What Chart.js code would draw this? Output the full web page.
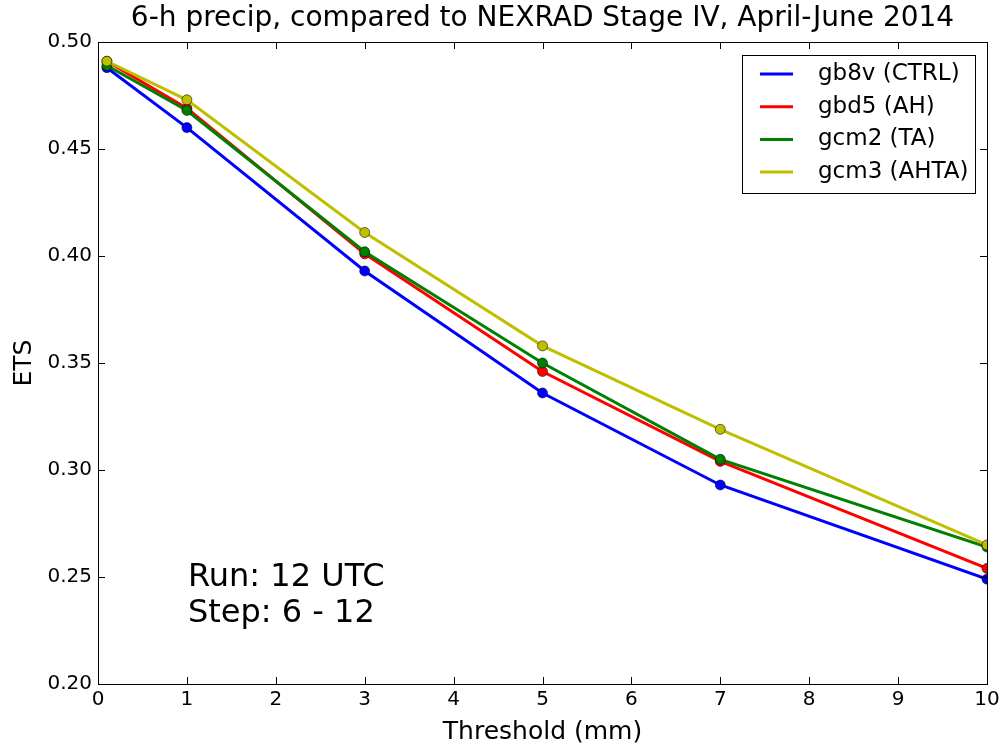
<!DOCTYPE html>
<html>
<head>
<meta charset="utf-8">
<script src="https://cdn.jsdelivr.net/npm/chart.js@4/dist/chart.umd.min.js"></script>
<style>
  html, body { margin: 0; padding: 0; background: #fff; }
  #wrap { width: 1005px; height: 744px; position: relative; }
</style>
</head>
<body>
<div id="wrap"><canvas id="c"></canvas></div>
<script>
// valores
const thresholds = [0.1, 1, 3, 5, 7, 10];
const gb8v = [0.488, 0.460, 0.393, 0.336, 0.293, 0.249];
const gbd5 = [0.491, 0.469, 0.401, 0.346, 0.304, 0.254];
const gcm2 = [0.489, 0.468, 0.402, 0.350, 0.305, 0.264];
const gcm3 = [0.491, 0.473, 0.411, 0.358, 0.319, 0.265];
const seriesNames = ["gb8v (CTRL)", "gbd5 (AH)", "gcm2 (TA)", "gcm3 (AHTA)"];
const seriesColors = ["#0000ff", "#ff0000", "#008000", "#bfbf00"];
const xTicks = [0, 1, 2, 3, 4, 5, 6, 7, 8, 9, 10];
const yTicks = [0.20, 0.25, 0.30, 0.35, 0.40, 0.45, 0.50];

const FONT = "'DejaVu Sans', 'Liberation Sans', sans-serif";
Chart.defaults.font.family = FONT;
Chart.defaults.color = "#000";

function mkSet(i, vals) {
  return {
    label: seriesNames[i],
    data: thresholds.map((x, k) => ({ x: x, y: vals[k] })),
    borderColor: seriesColors[i],
    backgroundColor: seriesColors[i],
    borderWidth: 3,
    pointRadius: 5,
    pointHoverRadius: 5,
    pointBackgroundColor: seriesColors[i],
    pointBorderColor: "rgba(0,0,0,.55)",
    pointBorderWidth: 1,
    tension: 0,
    clip: 0,
    order: 3 - i
  };
}

// marco, ticks hacia adentro, leyenda y texto
const mplFrame = {
  id: "mplFrame",
  afterDatasetsDraw(chart) {
    const { ctx, chartArea: a, scales } = chart;
    ctx.save();
    ctx.strokeStyle = "#000";
    ctx.lineWidth = 1;
    ctx.beginPath();
    xTicks.forEach(v => {
      const px = Math.round(scales.x.getPixelForValue(v)) + 0.5;
      ctx.moveTo(px, a.bottom); ctx.lineTo(px, a.bottom - 7);
      ctx.moveTo(px, a.top); ctx.lineTo(px, a.top + 7);
    });
    yTicks.forEach(v => {
      const py = Math.round(scales.y.getPixelForValue(v)) + 0.5;
      ctx.moveTo(a.left, py); ctx.lineTo(a.left + 7, py);
      ctx.moveTo(a.right, py); ctx.lineTo(a.right - 7, py);
    });
    ctx.stroke();
    ctx.strokeRect(Math.round(a.left) + 0.5, Math.round(a.top) + 0.5,
      Math.round(a.right - a.left), Math.round(a.bottom - a.top));

    // titulo
    ctx.fillStyle = "#000";
    ctx.font = "28px " + FONT;
    ctx.textAlign = "center";
    ctx.textBaseline = "middle";
    ctx.fillText("6-h precip, compared to NEXRAD Stage IV, April-June 2014", (a.left + a.right) / 2, 19);

    // anotacion
    ctx.font = "32px " + FONT;
    ctx.textAlign = "left";
    ctx.fillText("Run: 12 UTC", 188, 578);
    ctx.fillText("Step: 6 - 12", 188, 614);

    // leyenda
    const lx = 742, ly = 55, lw = 233, lh = 138;
    ctx.fillStyle = "#fff";
    ctx.fillRect(lx, ly, lw, lh);
    ctx.strokeStyle = "#000";
    ctx.strokeRect(lx + 0.5, ly + 0.5, lw, lh);
    ctx.font = "23px " + FONT;
    seriesNames.forEach((name, i) => {
      const y = 74 + i * 32.7;
      ctx.strokeStyle = seriesColors[i];
      ctx.lineWidth = 3;
      ctx.beginPath();
      ctx.moveTo(760, y); ctx.lineTo(793, y);
      ctx.stroke();
      ctx.fillStyle = "#000";
      ctx.fillText(name, 818, y);
    });
    ctx.restore();
  }
};

new Chart(document.getElementById("c"), {
  type: "line",
  data: {
    datasets: [mkSet(0, gb8v), mkSet(1, gbd5), mkSet(2, gcm2), mkSet(3, gcm3)]
  },
  options: {
    responsive: true,
    maintainAspectRatio: false,
    animation: false,
    layout: { padding: { top: 42, right: 18, left: 0, bottom: 0 } },
    plugins: {
      legend: { display: false },
      title: { display: false },
      tooltip: { enabled: false }
    },
    scales: {
      x: {
        type: "linear",
        min: 0, max: 10,
        afterFit: s => { s.height = 60; },
        afterBuildTicks: s => { s.ticks = xTicks.map(v => ({ value: v })); },
        grid: { display: false, drawTicks: false },
        border: { display: false },
        ticks: { font: { size: 20 }, padding: 4, maxRotation: 0 },
        title: { display: true, text: "Threshold (mm)", font: { size: 25, lineHeight: 0.9 }, padding: { top: 0, bottom: 0 } }
      },
      y: {
        type: "linear",
        min: 0.2, max: 0.5,
        afterFit: s => { s.width = 98; },
        afterBuildTicks: s => { s.ticks = yTicks.map(v => ({ value: v })); },
        grid: { display: false, drawTicks: false },
        border: { display: false },
        ticks: { font: { size: 20 }, padding: 6, callback: v => v.toFixed(2) },
        title: { display: true, text: "ETS", font: { size: 25 }, padding: { top: 9, bottom: 0 } }
      }
    }
  },
  plugins: [mplFrame]
});
</script>
</body>
</html>
